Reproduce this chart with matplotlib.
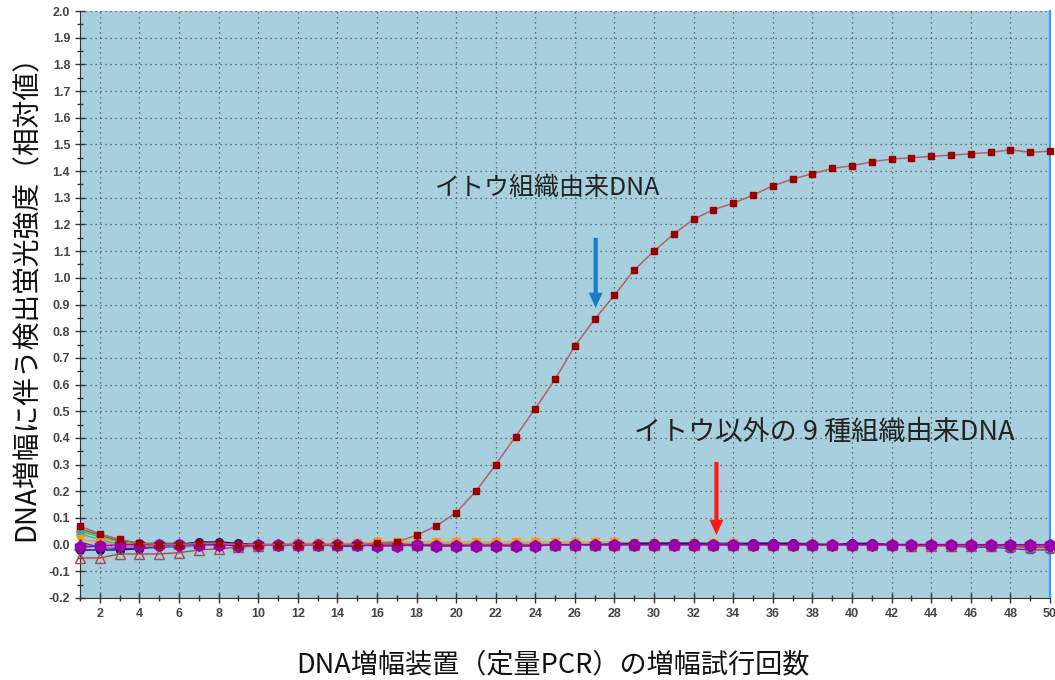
import matplotlib
matplotlib.use("Agg")
import matplotlib.pyplot as plt
from matplotlib.ticker import MultipleLocator, FormatStrFormatter

plt.rcParams['font.family'] = ['Noto Sans CJK JP', 'DejaVu Sans']

cycles = list(range(1, 51))

ito = [0.07, 0.04, 0.02, 0.005, 0.0, 0.0, 0.005, 0.005, 0.0, 0.0,
       0.0, 0.0, 0.0, 0.0, 0.0, 0.005, 0.01, 0.035, 0.07, 0.12,
       0.20, 0.30, 0.405, 0.51, 0.62, 0.745, 0.845, 0.935, 1.03, 1.10,
       1.165, 1.22, 1.255, 1.28, 1.31, 1.345, 1.37, 1.39, 1.41, 1.42,
       1.435, 1.445, 1.45, 1.455, 1.46, 1.465, 1.47, 1.48, 1.47, 1.475]

green = [0.06, 0.035, 0.015, 0.005, 0.005, 0.005, 0.005, 0.005, 0.0, 0.0,
         0.0, 0.0, 0.0, 0.0, 0.0, 0.0, 0.0, -0.005, -0.005, -0.005,
         0.0, 0.0, -0.005, -0.005, 0.0, 0.0, 0.0, 0.0, 0.005, 0.005,
         0.005, 0.005, 0.005, 0.005, 0.005, 0.005, 0.005, 0.005, 0.0, 0.0,
         0.0, 0.0, 0.0, 0.0, 0.0, 0.0, 0.0, 0.0, 0.0, 0.0]
olive = [0.05, 0.03, 0.01, 0.0, -0.005, -0.005, 0.0, 0.0, 0.0, 0.0,
         0.0, 0.0, 0.0, 0.0, 0.0, 0.005, 0.005, 0.0, 0.0, 0.0,
         0.0, 0.0, 0.0, 0.0, 0.0, 0.0, 0.0, 0.0, 0.0, 0.005,
         0.005, 0.005, 0.0, 0.0, 0.0, 0.0, 0.0, 0.0, 0.0, 0.0,
         0.0, 0.0, -0.005, -0.005, -0.005, -0.005, -0.01, -0.01, -0.01, -0.01]
cyan = [0.04, 0.02, 0.0, -0.01, -0.01, -0.01, -0.005, 0.0, 0.0, 0.0,
        0.0, 0.0, 0.0, 0.0, 0.0, 0.0, 0.0, 0.0, 0.0, 0.0,
        0.0, 0.0, 0.0, 0.0, 0.0, 0.0, 0.0, 0.0, 0.0, 0.0,
        0.0, 0.0, 0.0, 0.0, 0.0, 0.0, 0.0, 0.0, 0.0, 0.0,
        0.0, 0.0, 0.0, 0.0, -0.005, -0.005, -0.005, -0.005, -0.005, -0.005]
orange = [0.02, 0.01, 0.0, -0.005, -0.005, 0.0, 0.0, 0.0, 0.0, 0.0,
          0.0, 0.005, 0.005, 0.005, 0.005, 0.01, 0.01, 0.01, 0.01, 0.01,
          0.01, 0.01, 0.01, 0.01, 0.01, 0.01, 0.01, 0.01, 0.005, 0.005,
          0.005, 0.005, 0.005, 0.005, 0.0, 0.0, 0.0, 0.0, 0.0, 0.0,
          0.0, 0.0, 0.0, -0.005, -0.005, -0.01, -0.01, -0.01, -0.015, -0.015]
blue = [0.01, -0.01, -0.015, -0.015, -0.01, -0.005, 0.0, 0.005, 0.0, 0.0,
        0.0, 0.0, 0.0, -0.005, -0.005, 0.0, 0.0, 0.0, 0.0, 0.0,
        0.0, 0.0, 0.0, 0.0, 0.0, 0.0, 0.0, 0.005, 0.005, 0.005,
        0.005, 0.005, 0.005, 0.005, 0.005, 0.005, 0.0, 0.0, 0.0, 0.0,
        0.0, 0.0, 0.0, 0.0, -0.005, -0.01, -0.01, -0.015, -0.02, -0.02]
navy = [-0.02, -0.02, -0.02, -0.015, -0.005, 0.0, 0.01, 0.01, 0.005, 0.0,
        0.0, 0.0, 0.0, -0.005, -0.005, 0.0, 0.0, 0.0, 0.0, 0.0,
        0.0, 0.0, 0.0, 0.0, 0.0, 0.0, 0.0, 0.0, 0.005, 0.005,
        0.005, 0.005, 0.0, 0.0, 0.005, 0.005, 0.005, 0.0, 0.0, 0.005,
        0.005, 0.0, 0.0, 0.0, 0.0, 0.0, -0.005, -0.005, -0.005, -0.005]
purple = [-0.01, -0.005, 0.0, 0.0, 0.0, 0.0, 0.0, 0.0, -0.005, 0.0,
          0.0, 0.0, 0.0, 0.0, 0.0, -0.005, -0.005, 0.0, -0.005, -0.005,
          -0.005, -0.005, -0.005, -0.005, 0.0, 0.0, 0.0, 0.0, 0.0, 0.0,
          0.0, 0.0, 0.0, 0.0, 0.0, 0.0, 0.0, 0.0, 0.0, 0.0,
          0.0, 0.0, 0.0, 0.0, 0.0, 0.0, 0.0, 0.0, 0.0, 0.0]
brown = [-0.05, -0.05, -0.035, -0.035, -0.035, -0.03, -0.02, -0.015, -0.01, -0.005,
         0.0, 0.0, 0.0, 0.0, 0.0, 0.0, 0.0, 0.0, 0.0, 0.0,
         0.0, 0.0, 0.0, 0.0, 0.0, 0.0, 0.0, 0.0, 0.0, 0.0,
         0.0, 0.0, 0.0, 0.0, 0.0, 0.0, 0.0, 0.0, 0.0, 0.0,
         0.0, 0.0, -0.005, -0.005, -0.005, -0.005, -0.005, -0.005, -0.01, -0.01]
pink = [0.0, -0.01, -0.01, -0.01, -0.005, -0.005, 0.0, 0.0, 0.0, 0.0,
        0.0, 0.0, 0.0, 0.0, 0.0, 0.0, 0.0, 0.0, 0.0, 0.0,
        0.0, 0.0, 0.0, 0.0, 0.0, 0.0, 0.0, 0.0, 0.0, 0.0,
        0.0, 0.0, 0.0, 0.0, 0.0, 0.0, 0.0, 0.0, 0.0, 0.0,
        0.0, 0.0, 0.0, 0.0, 0.0, -0.005, -0.005, -0.005, -0.005, -0.005]

label_ito = 'イトウ組織由来DNA'
label_other = 'イトウ以外の 9 種組織由来DNA'
xlabel = 'DNA増幅装置（定量PCR）の増幅試行回数'
ylabel = 'DNA増幅に伴う検出蛍光強度（相対値）'

W, H = 1055, 680
fig = plt.figure(figsize=(W / 100, H / 100), dpi=100)
ax = fig.add_axes([80 / W, 1 - 598 / H, 970 / W, 587 / H])
ax.set_facecolor('#a7cfdd')

others = [
    (green, dict(color='#2e8b2e', marker='s', ms=5)),
    (olive, dict(color='#9a9a10', marker='D', ms=4.5)),
    (cyan, dict(color='#20b0c8', marker='o', ms=5)),
    (orange, dict(color='#ff9900', marker='v', ms=6)),
    (blue, dict(color='#2050e0', marker='^', ms=5)),
    (navy, dict(color='#101070', marker='o', ms=5.5)),
    (pink, dict(color='#c060c0', marker='x', ms=5)),
    (brown, dict(color='#b04848', marker='^', ms=6.5, mfc='none')),
    (purple, dict(color='#9a00aa', marker='h', ms=8.5)),
]
for vals, kw in others:
    ax.plot(cycles, vals, lw=1, clip_on=False, zorder=3, **kw)

ax.plot(cycles, ito, color='#b56068', lw=1.1, marker='s', ms=5,
        mfc='#990000', mec='#990000', clip_on=False, zorder=4)

ax.set_xlim(1, 50)
ax.set_ylim(-0.2, 2.0)
ax.xaxis.set_major_locator(MultipleLocator(2))
ax.xaxis.set_minor_locator(MultipleLocator(1))
ax.yaxis.set_major_locator(MultipleLocator(0.1))
ax.yaxis.set_minor_locator(MultipleLocator(0.05))
ax.yaxis.set_major_formatter(FormatStrFormatter('%.1f'))

ax.grid(True, which='major', color='#505050', linestyle=(0, (1, 3)), lw=0.9)
ax.tick_params(which='both', direction='inout', color='#333333',
               labelcolor='#444444', labelsize=9, width=1)
ax.tick_params(which='major', length=7)
ax.tick_params(which='minor', length=4)
for lab in ax.get_xticklabels() + ax.get_yticklabels():
    lab.set_family(['Liberation Sans', 'DejaVu Sans'])
    lab.set_fontweight('bold')

for s in ('left', 'bottom'):
    ax.spines[s].set_color('#333333')
ax.spines['top'].set_visible(False)
ax.spines['right'].set_color('#3d9bf0')
ax.spines['right'].set_linewidth(1.6)

ax.text(18.95, 1.337, label_ito, fontsize=18, color='#222222', ha='left', va='center')
ax.text(29.0, 0.42, label_other, fontsize=19.5, color='#222222', ha='left', va='center')

ax.annotate('', xy=(27.05, 0.887), xytext=(27.05, 1.15),
            arrowprops=dict(width=3, headwidth=10, headlength=11, shrink=0,
                            color='#1b7bc8', lw=0))
ax.annotate('', xy=(33.15, 0.036), xytext=(33.15, 0.31),
            arrowprops=dict(width=3, headwidth=10, headlength=11, shrink=0,
                            color='#ff1a1a', lw=0))

fig.text(553 / W, 1 - 665 / H, xlabel, fontsize=19.5, color='#111111',
         ha='center', va='center')
fig.text(27 / W, 1 - 291 / H, ylabel, fontsize=20, color='#111111',
         ha='center', va='center', rotation=90)

fig.savefig('out.png', dpi=100)
